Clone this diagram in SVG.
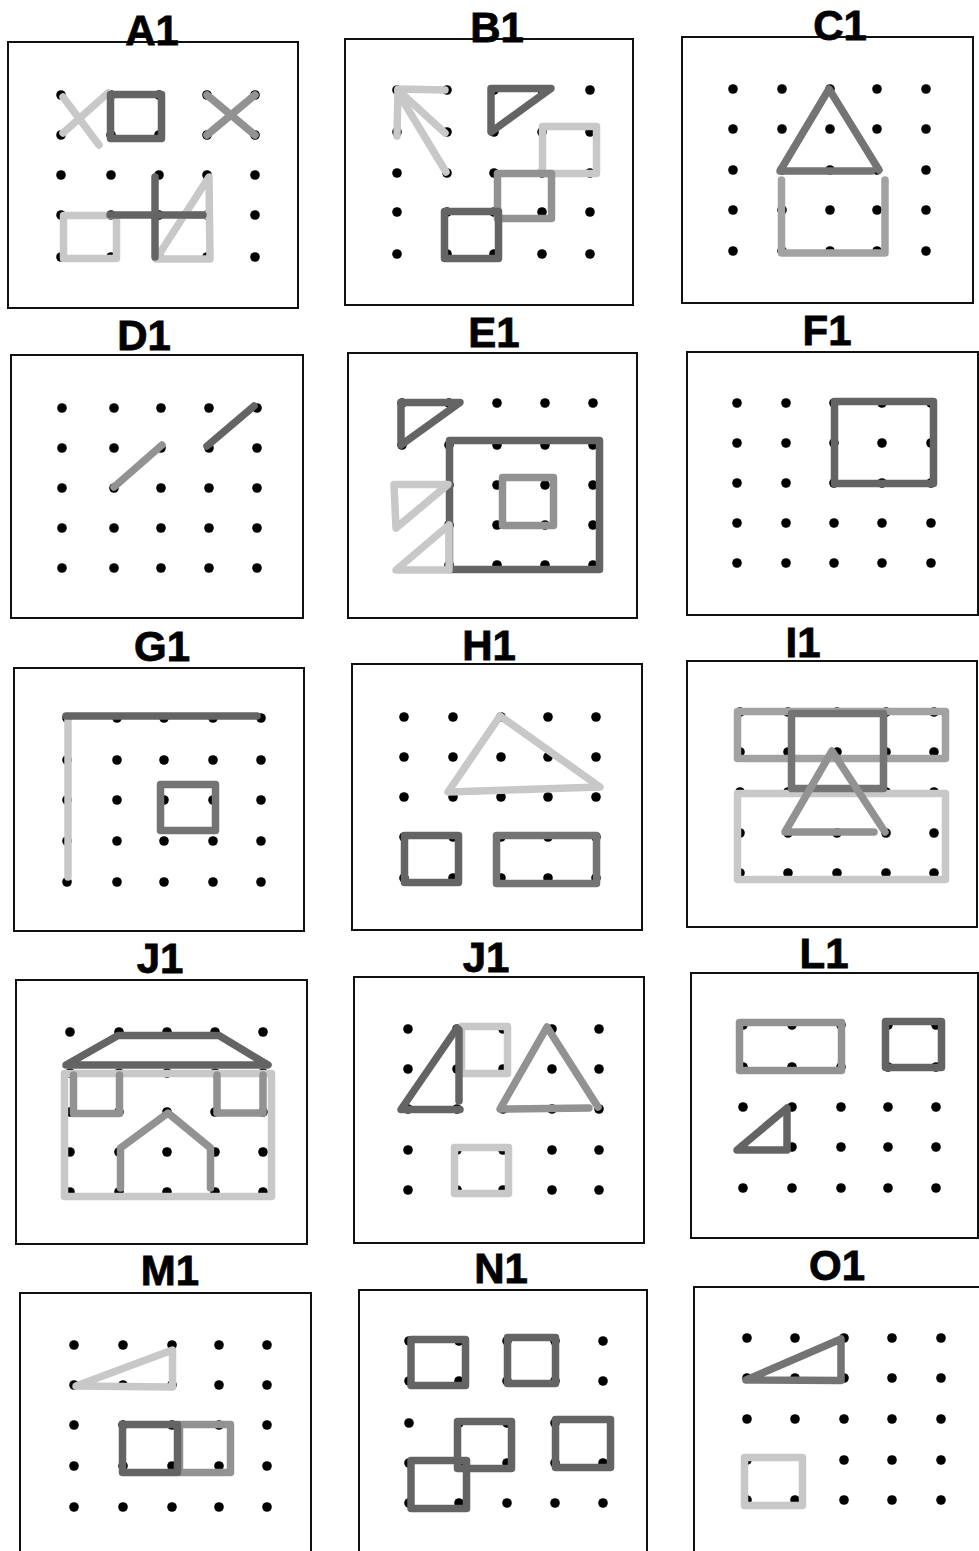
<svg xmlns="http://www.w3.org/2000/svg" width="979" height="1551" viewBox="0 0 979 1551">
<style>
.t{font-family:"Liberation Sans",Arial,sans-serif;font-weight:bold;font-size:42px;text-anchor:middle;fill:#000;stroke:#000;stroke-width:0.8}
.box{fill:none;stroke:#111;stroke-width:2}
.dt{fill:#000}
.dt circle{r:4.8px}
.b{fill:none;stroke-width:7.5;stroke-linejoin:round;stroke-linecap:round}
.dk{stroke:#646464}.md{stroke:#929292}.lt{stroke:#c8c8c8}.dm{stroke:#747474}.ml{stroke:#a2a2a2}
</style>
<rect x="0" y="0" width="979" height="1551" fill="#fff"/>

<g id="A1">
<rect class="box" x="8" y="42" width="290" height="266"/>
<text class="t" x="152" y="45">A1</text>
<g class="dt">
<circle cx="61" cy="95" r="4.8"/><circle cx="111" cy="95" r="4.8"/><circle cx="159" cy="95" r="4.8"/><circle cx="207" cy="95" r="4.8"/><circle cx="255" cy="95" r="4.8"/>
<circle cx="61" cy="135" r="4.8"/><circle cx="111" cy="135" r="4.8"/><circle cx="159" cy="135" r="4.8"/><circle cx="207" cy="135" r="4.8"/><circle cx="255" cy="135" r="4.8"/>
<circle cx="61" cy="175" r="4.8"/><circle cx="111" cy="175" r="4.8"/><circle cx="159" cy="175" r="4.8"/><circle cx="207" cy="175" r="4.8"/><circle cx="255" cy="175" r="4.8"/>
<circle cx="61" cy="215" r="4.8"/><circle cx="111" cy="215" r="4.8"/><circle cx="159" cy="215" r="4.8"/><circle cx="207" cy="215" r="4.8"/><circle cx="255" cy="215" r="4.8"/>
<circle cx="61" cy="257" r="4.8"/><circle cx="111" cy="257" r="4.8"/><circle cx="159" cy="257" r="4.8"/><circle cx="207" cy="257" r="4.8"/><circle cx="255" cy="257" r="4.8"/>
</g>
<line class="b lt" x1="63" y1="97" x2="99" y2="145"/>
<line class="b lt" x1="63" y1="133" x2="108" y2="93"/>
<rect class="b dk" x="110.5" y="94.5" width="51" height="44"/>
<line class="b md" x1="207" y1="95" x2="255" y2="135"/>
<line class="b md" x1="207" y1="135" x2="255" y2="95"/>
<rect class="b lt" x="63.5" y="215.5" width="53" height="43"/>
<polygon class="b lt" points="209,177 156,259 210,259"/>
<line class="b lt" x1="190" y1="215" x2="209" y2="215"/>
<line class="b dk" x1="110" y1="215" x2="203" y2="215"/>
<line class="b dk" x1="155" y1="177" x2="155" y2="257"/>
</g>

<g id="B1">
<rect class="box" x="345" y="39" width="288" height="266"/>
<text class="t" x="497" y="42">B1</text>
<g class="dt">
<circle cx="397" cy="90" r="4.8"/><circle cx="447" cy="90" r="4.8"/><circle cx="494" cy="90" r="4.8"/><circle cx="542" cy="90" r="4.8"/><circle cx="590" cy="90" r="4.8"/>
<circle cx="397" cy="132" r="4.8"/><circle cx="447" cy="132" r="4.8"/><circle cx="494" cy="132" r="4.8"/><circle cx="542" cy="132" r="4.8"/><circle cx="590" cy="132" r="4.8"/>
<circle cx="397" cy="173" r="4.8"/><circle cx="447" cy="173" r="4.8"/><circle cx="494" cy="173" r="4.8"/><circle cx="542" cy="173" r="4.8"/><circle cx="590" cy="173" r="4.8"/>
<circle cx="397" cy="212" r="4.8"/><circle cx="447" cy="212" r="4.8"/><circle cx="494" cy="212" r="4.8"/><circle cx="542" cy="212" r="4.8"/><circle cx="590" cy="212" r="4.8"/>
<circle cx="397" cy="254" r="4.8"/><circle cx="447" cy="254" r="4.8"/><circle cx="494" cy="254" r="4.8"/><circle cx="542" cy="254" r="4.8"/><circle cx="590" cy="254" r="4.8"/>
</g>
<polyline class="b lt" points="445,90 398,89 397,136"/>
<line class="b lt" x1="398" y1="90" x2="445" y2="133"/>
<line class="b lt" x1="400" y1="96" x2="446" y2="172"/>
<polygon class="b dk" points="491,88.5 551,88.5 491,132"/>
<rect class="b lt" x="542.5" y="126.5" width="54" height="47"/>
<rect class="b md" x="497.5" y="173.5" width="54" height="45"/>
<rect class="b dk" x="444.5" y="211.5" width="54" height="47"/>
</g>

<g id="C1">
<rect class="box" x="682" y="37" width="291" height="266"/>
<text class="t" x="840" y="40">C1</text>
<g class="dt">
<circle cx="733" cy="89" r="4.8"/><circle cx="782" cy="89" r="4.8"/><circle cx="830" cy="89" r="4.8"/><circle cx="877" cy="89" r="4.8"/><circle cx="926" cy="89" r="4.8"/>
<circle cx="733" cy="129" r="4.8"/><circle cx="782" cy="129" r="4.8"/><circle cx="830" cy="129" r="4.8"/><circle cx="877" cy="129" r="4.8"/><circle cx="926" cy="129" r="4.8"/>
<circle cx="733" cy="170" r="4.8"/><circle cx="782" cy="170" r="4.8"/><circle cx="830" cy="170" r="4.8"/><circle cx="877" cy="170" r="4.8"/><circle cx="926" cy="170" r="4.8"/>
<circle cx="733" cy="210" r="4.8"/><circle cx="782" cy="210" r="4.8"/><circle cx="830" cy="210" r="4.8"/><circle cx="877" cy="210" r="4.8"/><circle cx="926" cy="210" r="4.8"/>
<circle cx="733" cy="251" r="4.8"/><circle cx="782" cy="251" r="4.8"/><circle cx="830" cy="251" r="4.8"/><circle cx="877" cy="251" r="4.8"/><circle cx="926" cy="251" r="4.8"/>
</g>
<polyline class="b ml" points="781.5,180 781.5,253 885,253 885,180"/>
<polyline class="b dm" points="872,171 780,171 829,89 879,170"/>
</g>

<g id="D1">
<rect class="box" x="11" y="355" width="292" height="263"/>
<text class="t" x="144" y="350">D1</text>
<g class="dt">
<circle cx="62" cy="408" r="4.8"/><circle cx="114" cy="408" r="4.8"/><circle cx="161" cy="408" r="4.8"/><circle cx="209" cy="408" r="4.8"/><circle cx="257" cy="408" r="4.8"/>
<circle cx="62" cy="448" r="4.8"/><circle cx="114" cy="448" r="4.8"/><circle cx="161" cy="448" r="4.8"/><circle cx="209" cy="448" r="4.8"/><circle cx="257" cy="448" r="4.8"/>
<circle cx="62" cy="488" r="4.8"/><circle cx="114" cy="488" r="4.8"/><circle cx="161" cy="488" r="4.8"/><circle cx="209" cy="488" r="4.8"/><circle cx="257" cy="488" r="4.8"/>
<circle cx="62" cy="528" r="4.8"/><circle cx="114" cy="528" r="4.8"/><circle cx="161" cy="528" r="4.8"/><circle cx="209" cy="528" r="4.8"/><circle cx="257" cy="528" r="4.8"/>
<circle cx="62" cy="568" r="4.8"/><circle cx="114" cy="568" r="4.8"/><circle cx="161" cy="568" r="4.8"/><circle cx="209" cy="568" r="4.8"/><circle cx="257" cy="568" r="4.8"/>
</g>
<line class="b dk" x1="254" y1="406" x2="207" y2="446"/>
<line class="b md" x1="162" y1="445" x2="114" y2="487"/>
</g>

<g id="E1">
<rect class="box" x="348" y="353" width="289" height="265"/>
<text class="t" x="494" y="347">E1</text>
<g class="dt">
<circle cx="402" cy="403" r="4.8"/><circle cx="449" cy="403" r="4.8"/><circle cx="497" cy="403" r="4.8"/><circle cx="545" cy="403" r="4.8"/><circle cx="593" cy="403" r="4.8"/>
<circle cx="402" cy="445" r="4.8"/><circle cx="449" cy="445" r="4.8"/><circle cx="497" cy="445" r="4.8"/><circle cx="545" cy="445" r="4.8"/><circle cx="593" cy="445" r="4.8"/>
<circle cx="449" cy="485" r="4.8"/><circle cx="497" cy="485" r="4.8"/><circle cx="545" cy="485" r="4.8"/><circle cx="593" cy="485" r="4.8"/>
<circle cx="449" cy="525" r="4.8"/><circle cx="497" cy="525" r="4.8"/><circle cx="545" cy="525" r="4.8"/><circle cx="593" cy="525" r="4.8"/>
<circle cx="449" cy="565" r="4.8"/><circle cx="497" cy="565" r="4.8"/><circle cx="545" cy="565" r="4.8"/><circle cx="593" cy="565" r="4.8"/>
</g>
<polygon class="b dk" points="401,402.5 460,402.5 401,445"/>
<rect class="b dk" x="449.5" y="440.5" width="150" height="129"/>
<rect class="b md" x="502.5" y="477.5" width="51" height="48"/>
<polygon class="b lt" points="394,484.5 448,484.5 396,528"/>
<polygon class="b lt" points="449,525 449,570 396,570"/>
</g>

<g id="F1">
<rect class="box" x="687" y="352" width="291" height="263"/>
<text class="t" x="827" y="345">F1</text>
<g class="dt">
<circle cx="737" cy="403" r="4.8"/><circle cx="786" cy="403" r="4.8"/><circle cx="834" cy="403" r="4.8"/><circle cx="882" cy="403" r="4.8"/><circle cx="931" cy="403" r="4.8"/>
<circle cx="737" cy="443" r="4.8"/><circle cx="786" cy="443" r="4.8"/><circle cx="834" cy="443" r="4.8"/><circle cx="882" cy="443" r="4.8"/><circle cx="931" cy="443" r="4.8"/>
<circle cx="737" cy="483" r="4.8"/><circle cx="786" cy="483" r="4.8"/><circle cx="834" cy="483" r="4.8"/><circle cx="882" cy="483" r="4.8"/><circle cx="931" cy="483" r="4.8"/>
<circle cx="737" cy="523" r="4.8"/><circle cx="786" cy="523" r="4.8"/><circle cx="834" cy="523" r="4.8"/><circle cx="882" cy="523" r="4.8"/><circle cx="931" cy="523" r="4.8"/>
<circle cx="737" cy="563" r="4.8"/><circle cx="786" cy="563" r="4.8"/><circle cx="834" cy="563" r="4.8"/><circle cx="882" cy="563" r="4.8"/><circle cx="931" cy="563" r="4.8"/>
</g>
<rect class="b dk" x="834.5" y="401.5" width="99" height="82"/>
</g>

<g id="G1">
<rect class="box" x="14" y="668" width="290" height="263"/>
<text class="t" x="162" y="661">G1</text>
<g class="dt">
<circle cx="67" cy="718" r="4.8"/><circle cx="117" cy="718" r="4.8"/><circle cx="164" cy="718" r="4.8"/><circle cx="213" cy="718" r="4.8"/><circle cx="261" cy="718" r="4.8"/>
<circle cx="67" cy="760" r="4.8"/><circle cx="117" cy="760" r="4.8"/><circle cx="164" cy="760" r="4.8"/><circle cx="213" cy="760" r="4.8"/><circle cx="261" cy="760" r="4.8"/>
<circle cx="67" cy="800" r="4.8"/><circle cx="117" cy="800" r="4.8"/><circle cx="164" cy="800" r="4.8"/><circle cx="213" cy="800" r="4.8"/><circle cx="261" cy="800" r="4.8"/>
<circle cx="67" cy="841" r="4.8"/><circle cx="117" cy="841" r="4.8"/><circle cx="164" cy="841" r="4.8"/><circle cx="213" cy="841" r="4.8"/><circle cx="261" cy="841" r="4.8"/>
<circle cx="67" cy="882" r="4.8"/><circle cx="117" cy="882" r="4.8"/><circle cx="164" cy="882" r="4.8"/><circle cx="213" cy="882" r="4.8"/><circle cx="261" cy="882" r="4.8"/>
</g>
<line class="b lt" x1="68" y1="717" x2="68" y2="877"/>
<line class="b dk" x1="66" y1="716" x2="257" y2="716"/>
<rect class="b dm" x="160.5" y="784.5" width="55" height="46"/>
</g>

<g id="H1">
<rect class="box" x="352" y="664" width="290" height="266"/>
<text class="t" x="489" y="660">H1</text>
<g class="dt">
<circle cx="404" cy="717" r="4.8"/><circle cx="453" cy="717" r="4.8"/><circle cx="501" cy="717" r="4.8"/><circle cx="548" cy="717" r="4.8"/><circle cx="596" cy="717" r="4.8"/>
<circle cx="404" cy="757" r="4.8"/><circle cx="453" cy="757" r="4.8"/><circle cx="501" cy="757" r="4.8"/><circle cx="548" cy="757" r="4.8"/><circle cx="596" cy="757" r="4.8"/>
<circle cx="404" cy="797" r="4.8"/><circle cx="453" cy="797" r="4.8"/><circle cx="501" cy="797" r="4.8"/><circle cx="548" cy="797" r="4.8"/><circle cx="596" cy="797" r="4.8"/>
<circle cx="404" cy="837" r="4.8"/><circle cx="453" cy="837" r="4.8"/><circle cx="501" cy="837" r="4.8"/><circle cx="548" cy="837" r="4.8"/><circle cx="596" cy="837" r="4.8"/>
<circle cx="404" cy="878" r="4.8"/><circle cx="453" cy="878" r="4.8"/><circle cx="501" cy="878" r="4.8"/><circle cx="548" cy="878" r="4.8"/><circle cx="596" cy="878" r="4.8"/>
</g>
<polygon class="b lt" points="500,716 448,792 600,787"/>
<rect class="b dk" x="404.5" y="835.5" width="54" height="47"/>
<rect class="b dm" x="496.5" y="835.5" width="100" height="48"/>
</g>

<g id="I1">
<rect class="box" x="687" y="661" width="290" height="266"/>
<text class="t" x="803" y="657">I1</text>
<g class="dt">
<circle cx="740" cy="712" r="4.8"/><circle cx="788" cy="712" r="4.8"/><circle cx="837" cy="712" r="4.8"/><circle cx="886" cy="712" r="4.8"/><circle cx="934" cy="712" r="4.8"/>
<circle cx="740" cy="752" r="4.8"/><circle cx="788" cy="752" r="4.8"/><circle cx="837" cy="752" r="4.8"/><circle cx="886" cy="752" r="4.8"/><circle cx="934" cy="752" r="4.8"/>
<circle cx="740" cy="792" r="4.8"/><circle cx="788" cy="792" r="4.8"/><circle cx="837" cy="792" r="4.8"/><circle cx="886" cy="792" r="4.8"/><circle cx="934" cy="792" r="4.8"/>
<circle cx="740" cy="833" r="4.8"/><circle cx="788" cy="833" r="4.8"/><circle cx="837" cy="833" r="4.8"/><circle cx="886" cy="833" r="4.8"/><circle cx="934" cy="833" r="4.8"/>
<circle cx="740" cy="873" r="4.8"/><circle cx="788" cy="873" r="4.8"/><circle cx="837" cy="873" r="4.8"/><circle cx="886" cy="873" r="4.8"/><circle cx="934" cy="873" r="4.8"/>
</g>
<rect class="b lt" x="737.5" y="793.5" width="208" height="86"/>
<rect class="b ml" x="737.5" y="711.5" width="208" height="47"/>
<rect class="b dm" x="791.5" y="713.5" width="92" height="75"/>
<polyline class="b md" points="874,832 785,832 832,751 885,832"/>
</g>

<g id="J1">
<rect class="box" x="16" y="980" width="291" height="264"/>
<text class="t" x="160" y="973">J1</text>
<g class="dt">
<circle cx="70" cy="1032" r="4.8"/><circle cx="119" cy="1032" r="4.8"/><circle cx="167" cy="1032" r="4.8"/><circle cx="215" cy="1032" r="4.8"/><circle cx="263" cy="1032" r="4.8"/>
<circle cx="70" cy="1073" r="4.8"/><circle cx="119" cy="1073" r="4.8"/><circle cx="167" cy="1073" r="4.8"/><circle cx="215" cy="1073" r="4.8"/><circle cx="263" cy="1073" r="4.8"/>
<circle cx="70" cy="1112" r="4.8"/><circle cx="119" cy="1112" r="4.8"/><circle cx="167" cy="1112" r="4.8"/><circle cx="215" cy="1112" r="4.8"/><circle cx="263" cy="1112" r="4.8"/>
<circle cx="70" cy="1152" r="4.8"/><circle cx="119" cy="1152" r="4.8"/><circle cx="167" cy="1152" r="4.8"/><circle cx="215" cy="1152" r="4.8"/><circle cx="263" cy="1152" r="4.8"/>
<circle cx="70" cy="1192" r="4.8"/><circle cx="119" cy="1192" r="4.8"/><circle cx="167" cy="1192" r="4.8"/><circle cx="215" cy="1192" r="4.8"/><circle cx="263" cy="1192" r="4.8"/>
</g>
<rect class="b lt" x="64.5" y="1073.5" width="207" height="123"/>
<polygon class="b dk" points="66,1065 118,1035.5 219,1035.5 268,1065"/>
<polyline class="b md" points="73.5,1075 73.5,1113.5 119.5,1113.5 119.5,1075"/>
<polyline class="b md" points="217,1075 217,1113 263,1113 263,1075"/>
<polyline class="b md" points="120.5,1188 120.5,1148 168,1113 210.5,1148 210.5,1188"/>
</g>

<g id="J1b">
<rect class="box" x="354" y="977" width="290" height="266"/>
<text class="t" x="486" y="972">J1</text>
<g class="dt">
<circle cx="408" cy="1029" r="4.8"/><circle cx="457" cy="1029" r="4.8"/><circle cx="503" cy="1029" r="4.8"/><circle cx="552" cy="1029" r="4.8"/><circle cx="599" cy="1029" r="4.8"/>
<circle cx="408" cy="1069" r="4.8"/><circle cx="457" cy="1069" r="4.8"/><circle cx="503" cy="1069" r="4.8"/><circle cx="552" cy="1069" r="4.8"/><circle cx="599" cy="1069" r="4.8"/>
<circle cx="408" cy="1109" r="4.8"/><circle cx="457" cy="1109" r="4.8"/><circle cx="503" cy="1109" r="4.8"/><circle cx="552" cy="1109" r="4.8"/><circle cx="599" cy="1109" r="4.8"/>
<circle cx="408" cy="1150" r="4.8"/><circle cx="457" cy="1150" r="4.8"/><circle cx="503" cy="1150" r="4.8"/><circle cx="552" cy="1150" r="4.8"/><circle cx="599" cy="1150" r="4.8"/>
<circle cx="408" cy="1190" r="4.8"/><circle cx="457" cy="1190" r="4.8"/><circle cx="503" cy="1190" r="4.8"/><circle cx="552" cy="1190" r="4.8"/><circle cx="599" cy="1190" r="4.8"/>
</g>
<rect class="b lt" x="461.5" y="1026.5" width="46" height="47"/>
<rect class="b lt" x="454.5" y="1147.5" width="54" height="46"/>
<polyline class="b dk" points="460,1109.5 401,1109.5 457,1028"/>
<line class="b dk" x1="459" y1="1030" x2="459" y2="1101"/>
<polyline class="b md" points="589,1108 500,1109 547,1027 598,1107"/>
</g>

<g id="L1">
<rect class="box" x="691" y="973" width="287" height="265"/>
<text class="t" x="824" y="968">L1</text>
<g class="dt">
<circle cx="743" cy="1025" r="4.8"/><circle cx="792" cy="1025" r="4.8"/><circle cx="841" cy="1025" r="4.8"/><circle cx="888" cy="1025" r="4.8"/><circle cx="936" cy="1025" r="4.8"/>
<circle cx="743" cy="1067" r="4.8"/><circle cx="792" cy="1067" r="4.8"/><circle cx="841" cy="1067" r="4.8"/><circle cx="888" cy="1067" r="4.8"/><circle cx="936" cy="1067" r="4.8"/>
<circle cx="743" cy="1107" r="4.8"/><circle cx="792" cy="1107" r="4.8"/><circle cx="841" cy="1107" r="4.8"/><circle cx="888" cy="1107" r="4.8"/><circle cx="936" cy="1107" r="4.8"/>
<circle cx="743" cy="1147" r="4.8"/><circle cx="792" cy="1147" r="4.8"/><circle cx="841" cy="1147" r="4.8"/><circle cx="888" cy="1147" r="4.8"/><circle cx="936" cy="1147" r="4.8"/>
<circle cx="743" cy="1188" r="4.8"/><circle cx="792" cy="1188" r="4.8"/><circle cx="841" cy="1188" r="4.8"/><circle cx="888" cy="1188" r="4.8"/><circle cx="936" cy="1188" r="4.8"/>
</g>
<rect class="b md" x="739.5" y="1022.5" width="102" height="48"/>
<rect class="b dk" x="885.5" y="1021.5" width="56" height="46"/>
<polygon class="b dk" points="737,1150 787,1108 787,1150"/>
</g>

<g id="M1">
<polyline class="box" points="20,1560 20,1293 311,1293 311,1560"/>
<text class="t" x="170" y="1285">M1</text>
<g class="dt">
<circle cx="74" cy="1345" r="4.8"/><circle cx="123" cy="1345" r="4.8"/><circle cx="172" cy="1345" r="4.8"/><circle cx="219" cy="1345" r="4.8"/><circle cx="267" cy="1345" r="4.8"/>
<circle cx="74" cy="1385" r="4.8"/><circle cx="123" cy="1385" r="4.8"/><circle cx="172" cy="1385" r="4.8"/><circle cx="219" cy="1385" r="4.8"/><circle cx="267" cy="1385" r="4.8"/>
<circle cx="74" cy="1425" r="4.8"/><circle cx="123" cy="1425" r="4.8"/><circle cx="172" cy="1425" r="4.8"/><circle cx="219" cy="1425" r="4.8"/><circle cx="267" cy="1425" r="4.8"/>
<circle cx="74" cy="1466" r="4.8"/><circle cx="123" cy="1466" r="4.8"/><circle cx="172" cy="1466" r="4.8"/><circle cx="219" cy="1466" r="4.8"/><circle cx="267" cy="1466" r="4.8"/>
<circle cx="74" cy="1507" r="4.8"/><circle cx="123" cy="1507" r="4.8"/><circle cx="172" cy="1507" r="4.8"/><circle cx="219" cy="1507" r="4.8"/><circle cx="267" cy="1507" r="4.8"/>
</g>
<polygon class="b lt" points="76,1386 172.5,1350 172.5,1387"/>
<rect class="b md" x="179.5" y="1424.5" width="51" height="48"/>
<rect class="b dk" x="122.5" y="1424.5" width="55" height="48"/>
</g>

<g id="N1">
<polyline class="box" points="359,1560 359,1290 647,1290 647,1560"/>
<text class="t" x="501" y="1283">N1</text>
<g class="dt">
<circle cx="409" cy="1341" r="4.8"/><circle cx="459" cy="1341" r="4.8"/><circle cx="507" cy="1341" r="4.8"/><circle cx="555" cy="1341" r="4.8"/><circle cx="603" cy="1341" r="4.8"/>
<circle cx="409" cy="1381" r="4.8"/><circle cx="459" cy="1381" r="4.8"/><circle cx="507" cy="1381" r="4.8"/><circle cx="555" cy="1381" r="4.8"/><circle cx="603" cy="1381" r="4.8"/>
<circle cx="409" cy="1423" r="4.8"/><circle cx="459" cy="1423" r="4.8"/><circle cx="507" cy="1423" r="4.8"/><circle cx="555" cy="1423" r="4.8"/>
<circle cx="409" cy="1463" r="4.8"/><circle cx="459" cy="1463" r="4.8"/><circle cx="507" cy="1463" r="4.8"/><circle cx="555" cy="1463" r="4.8"/><circle cx="603" cy="1463" r="4.8"/>
<circle cx="409" cy="1503" r="4.8"/><circle cx="459" cy="1503" r="4.8"/><circle cx="507" cy="1503" r="4.8"/><circle cx="555" cy="1503" r="4.8"/><circle cx="603" cy="1503" r="4.8"/>
</g>
<rect class="b dk" x="411" y="1339.5" width="54.5" height="46"/>
<rect class="b dk" x="507.5" y="1337.5" width="48" height="46"/>
<rect class="b dk" x="457.5" y="1421.5" width="54" height="47"/>
<rect class="b dk" x="555.5" y="1419.5" width="55" height="48"/>
<rect class="b dk" x="411" y="1460.5" width="55.5" height="48"/>
</g>

<g id="O1">
<polyline class="box" points="694,1560 694,1287 985,1287"/>
<text class="t" x="837" y="1280">O1</text>
<g class="dt">
<circle cx="747" cy="1338" r="4.8"/><circle cx="795" cy="1338" r="4.8"/><circle cx="844" cy="1338" r="4.8"/><circle cx="892" cy="1338" r="4.8"/><circle cx="941" cy="1338" r="4.8"/>
<circle cx="747" cy="1378" r="4.8"/><circle cx="795" cy="1378" r="4.8"/><circle cx="844" cy="1378" r="4.8"/><circle cx="892" cy="1378" r="4.8"/><circle cx="941" cy="1378" r="4.8"/>
<circle cx="747" cy="1419" r="4.8"/><circle cx="795" cy="1419" r="4.8"/><circle cx="844" cy="1419" r="4.8"/><circle cx="892" cy="1419" r="4.8"/><circle cx="941" cy="1419" r="4.8"/>
<circle cx="747" cy="1460" r="4.8"/><circle cx="844" cy="1460" r="4.8"/><circle cx="892" cy="1460" r="4.8"/><circle cx="941" cy="1460" r="4.8"/>
<circle cx="747" cy="1500" r="4.8"/><circle cx="795" cy="1500" r="4.8"/><circle cx="844" cy="1500" r="4.8"/><circle cx="892" cy="1500" r="4.8"/><circle cx="941" cy="1500" r="4.8"/>
</g>
<polygon class="b dm" points="746,1380 841,1339 841,1380.5"/>
<rect class="b lt" x="744.5" y="1457.5" width="58" height="48"/>
</g>
</svg>
